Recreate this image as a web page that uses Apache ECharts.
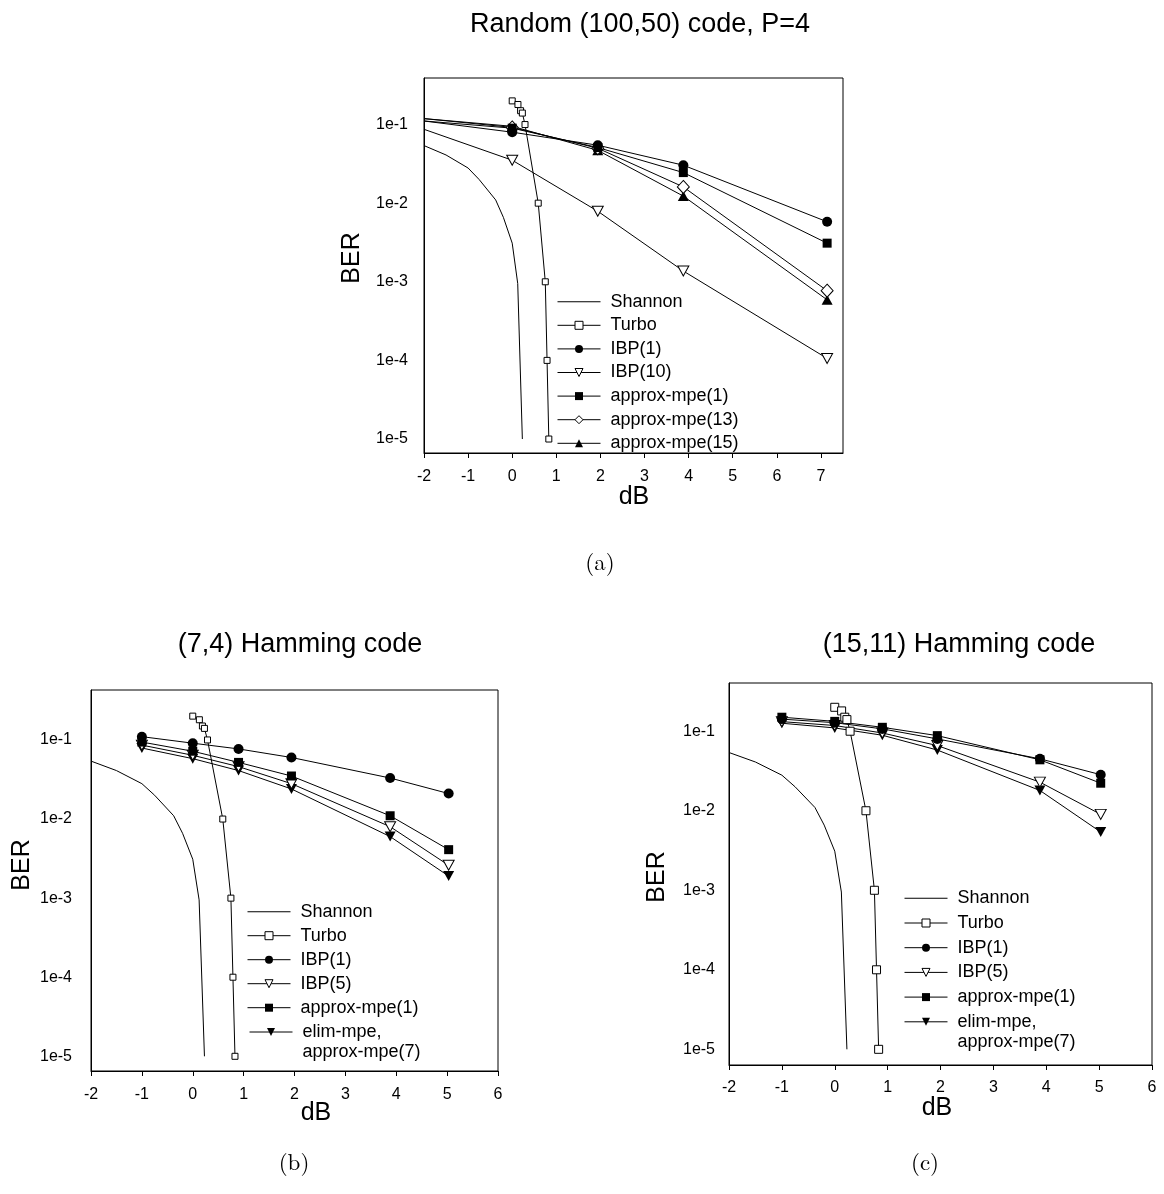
<!DOCTYPE html>
<html>
<head>
<meta charset="utf-8">
<script src="https://cdn.jsdelivr.net/npm/echarts@6/dist/echarts.min.js"></script>
<style>
  html, body { margin: 0; padding: 0; background: #fff; }
  #chart { width: 1164px; height: 1194px; }
</style>
</head>
<body>
<div id="chart"></div>
<script>
// ---- Shared reference curves (dB vs. BER) ----
const shannonDb  = [-2, -1.5, -1, -0.75, -0.375, -0.2, 0, 0.125, 0.23];
const shannonBer = [0.054, 0.041, 0.028, 0.020, 0.011, 0.0066, 0.0031, 0.00095, 0.00001];

const turboDb  = [0, 0.13, 0.19, 0.23, 0.29, 0.59, 0.75, 0.79, 0.83];
const turboBer = [0.2, 0.18, 0.15, 0.14, 0.1, 0.01, 0.001, 0.0001, 0.00001];

// ---- (a) Random (100,50) code, P=4 ----
// the first point (-2 dB) is where each curve enters the frame; it carries no marker
const dbA    = [-2, 0, 1.94, 3.88, 7.14];
const ibp1A  = [0.111, 0.080, 0.0546, 0.0304, 0.0058];
const ibp10A = [0.087, 0.0352, 0.0079, 0.00137, 0.000106];
const mpe1A  = [0.111, 0.090, 0.051, 0.0245, 0.0031];
const mpe13A = [0.119, 0.092, 0.050, 0.0161, 0.00077];
const mpe15A = [0.119, 0.095, 0.047, 0.0123, 0.00059];

// ---- (b) (7,4) Hamming code ----
const dbB   = [-1, 0, 0.9, 1.94, 3.88, 5.03];
const ibp1B = [0.110, 0.091, 0.077, 0.060, 0.033, 0.021];
const ibp5B = [0.086, 0.064, 0.046, 0.028, 0.0080, 0.0026];
const mpe1B = [0.094, 0.072, 0.052, 0.035, 0.0110, 0.0041];
const elimB = [0.079, 0.058, 0.041, 0.024, 0.0060, 0.0019];

// ---- (c) (15,11) Hamming code ----
const dbC   = [-1, 0, 0.9, 1.94, 3.88, 5.03];
const ibp1C = [0.142, 0.128, 0.107, 0.080, 0.045, 0.0284];
const ibp5C = [0.132, 0.118, 0.095, 0.066, 0.0229, 0.0090];
const mpe1C = [0.150, 0.133, 0.112, 0.088, 0.0437, 0.0222];
const elimC = [0.126, 0.110, 0.089, 0.058, 0.018, 0.0054];

// ---- Axis tick values ----
const xTicksA = [-2, -1, 0, 1, 2, 3, 4, 5, 6, 7];
const xTicksBC = [-2, -1, 0, 1, 2, 3, 4, 5, 6];

const FONT = '"Liberation Sans", Arial, Helvetica, sans-serif';
const SERIF = '"Latin Modern Roman", "DejaVu Serif", "Liberation Serif", serif';
const ELIM = 'elim-mpe,\napprox-mpe(7)';

// marker styles
const M = {
  turbo:  { symbol: 'rect', size: 6, fill: '#fff', rotate: 0 },
  turboC: { symbol: 'rect', size: 8, fill: '#fff', rotate: 0 },
  dot:    { symbol: 'circle', size: 10, fill: '#000', rotate: 0 },
  tri:    { symbol: 'triangle', size: [11, 10], fill: '#fff', rotate: 180 },
  triF:   { symbol: 'triangle', size: [11, 10], fill: '#000', rotate: 180 },
  triUp:  { symbol: 'triangle', size: [11, 10], fill: '#000', rotate: 0 },
  sq:     { symbol: 'rect', size: 9, fill: '#000', rotate: 0 },
  dia:    { symbol: 'diamond', size: [12, 13], fill: '#fff', rotate: 0 }
};

function pairs(xs, ys, hideFirst) {
  return xs.map((x, i) => (hideFirst && i === 0)
    ? { value: [x, ys[i]], symbol: 'none' }
    : [x, ys[i]]);
}

function curve(name, grid, xs, ys, marker, hideFirst) {
  const s = {
    type: 'line',
    name: name,
    xAxisIndex: grid,
    yAxisIndex: grid,
    data: pairs(xs, ys, hideFirst),
    lineStyle: { color: '#000', width: 1 },
    color: '#000',
    clip: true,
    silent: true,
    emphasis: { disabled: true },
    showAllSymbol: true
  };
  if (marker) {
    s.symbol = marker.symbol;
    s.symbolSize = marker.size;
    s.symbolRotate = marker.rotate;
    s.itemStyle = { color: marker.fill, borderColor: '#000', borderWidth: marker.fill === '#fff' ? 1 : 0 };
  } else {
    s.symbol = 'none';
  }
  return s;
}

const series = [
  // (a)
  curve('Shannon', 0, shannonDb, shannonBer, null),
  curve('Turbo', 0, turboDb, turboBer, M.turbo),
  curve('IBP(10)', 0, dbA, ibp10A, M.tri, true),
  curve('approx-mpe(15)', 0, dbA, mpe15A, M.triUp, true),
  curve('approx-mpe(13)', 0, dbA, mpe13A, M.dia, true),
  curve('approx-mpe(1)', 0, dbA, mpe1A, M.sq, true),
  curve('IBP(1)', 0, dbA, ibp1A, M.dot, true),
  // (b)
  curve('Shannon', 1, shannonDb, shannonBer, null),
  curve('Turbo', 1, turboDb, turboBer, M.turbo),
  curve(ELIM, 1, dbB, elimB, M.triF),
  curve('IBP(5)', 1, dbB, ibp5B, M.tri),
  curve('approx-mpe(1)', 1, dbB, mpe1B, M.sq),
  curve('IBP(1)', 1, dbB, ibp1B, M.dot),
  // (c)
  curve('Shannon', 2, shannonDb, shannonBer, null),
  curve('Turbo', 2, turboDb, turboBer, M.turboC),
  curve(ELIM, 2, dbC, elimC, M.triF),
  curve('IBP(5)', 2, dbC, ibp5C, M.tri),
  curve('IBP(1)', 2, dbC, ibp1C, M.dot),
  curve('approx-mpe(1)', 2, dbC, mpe1C, M.sq)
];

// plot frames in pixels
const frames = [
  { left: 424, top: 78,  width: 419, height: 375, xmax: 7.5, ymin: 6.64e-6, ymax: 0.391, ticks: xTicksA, ylm: 16, xlm: 16 },
  { left: 91,  top: 690, width: 407, height: 381, xmax: 6,   ymin: 6.52e-6, ymax: 0.428, ticks: xTicksBC, ylm: 19, xlm: 16 },
  { left: 729, top: 683, width: 423, height: 382, xmax: 6,   ymin: 6.35e-6, ymax: 0.404, ticks: xTicksBC, ylm: 14, xlm: 15 }
];

const axisColor = '#000';
const labelStyle = { color: '#000', fontSize: 16, fontFamily: FONT };

const grid = frames.map(f => ({
  left: f.left, top: f.top, width: f.width, height: f.height,
  show: true, borderColor: axisColor, borderWidth: 1, backgroundColor: 'transparent',
  containLabel: false
}));

const xAxis = frames.map((f, i) => ({
  type: 'value', gridIndex: i, min: -2, max: f.xmax, interval: 1,
  axisLine: { show: true, onZero: false, lineStyle: { color: axisColor, width: 1 } },
  axisTick: { show: true, inside: false, length: 5, lineStyle: { color: axisColor }, customValues: f.ticks },
  axisLabel: Object.assign({ margin: f.xlm, customValues: f.ticks, formatter: v => String(v) }, labelStyle),
  splitLine: { show: false }
}));

function decadeLabel(v) {
  const e = Math.log10(v);
  return Math.abs(e - Math.round(e)) < 1e-6 ? '1e' + Math.round(e) : '';
}

const yAxis = frames.map((f, i) => ({
  type: 'log', logBase: 10, gridIndex: i, min: f.ymin, max: f.ymax,
  axisLine: { show: true, onZero: false, lineStyle: { color: axisColor, width: 1 } },
  axisTick: { show: false },
  axisLabel: Object.assign({ margin: f.ylm, formatter: decadeLabel }, labelStyle),
  splitLine: { show: false },
  minorTick: { show: false }
}));

// legends
const legendText = { color: '#000', fontSize: 18, lineHeight: 20, fontFamily: FONT, padding: [0, 0, 0, 5] };
function legItem(name, m) {
  if (!m) {
    return { name: name, icon: 'path://M0,0H43V1H0Z', symbolKeepAspect: true,
             itemStyle: { color: '#000', borderWidth: 0 } };
  }
  return { name: name,
           itemStyle: { color: m.fill, borderColor: '#000', borderWidth: m.fill === '#fff' ? 1 : 0 } };
}
function legend(left, top, gap, items, formatter) {
  const l = {
    orient: 'vertical', left: left, top: top, padding: 0,
    itemWidth: 43, itemHeight: 10, itemGap: gap,
    selectedMode: false,
    lineStyle: { color: '#000', width: 1 },
    textStyle: Object.assign({}, legendText),
    data: items
  };
  if (formatter) l.formatter = formatter;
  return l;
}
// two-line entry: a blank leading line keeps the marker level with "elim-mpe,"
const twoLine = name => ' \n' + name;

const legendA = legend(557, 291.7, 3.6, [
  legItem('Shannon'), legItem('Turbo', M.turbo), legItem('IBP(1)', M.dot), legItem('IBP(10)', M.tri),
  legItem('approx-mpe(1)', M.sq), legItem('approx-mpe(13)', M.dia), legItem('approx-mpe(15)', M.triUp)
]);
const legendB = legend(247, 901.7, 4, [
  legItem('Shannon'), legItem('Turbo', M.turbo), legItem('IBP(1)', M.dot), legItem('IBP(5)', M.tri),
  legItem('approx-mpe(1)', M.sq)
]);
const legendB2 = legend(249, 1002, 0, [legItem(ELIM, M.triF)], twoLine);
const legendC = legend(904, 888.3, 4.7, [
  legItem('Shannon'), legItem('Turbo', M.turboC), legItem('IBP(1)', M.dot), legItem('IBP(5)', M.tri),
  legItem('approx-mpe(1)', M.sq)
]);
const legendC2 = legend(904, 991.8, 0, [legItem(ELIM, M.triF)], twoLine);

// titles, axis names and captions
function txt(x, y, text, size, family, rot) {
  return {
    type: 'text', x: x, y: y, rotation: rot || 0, silent: true,
    style: { text: text, fill: '#000', font: size + 'px ' + family, align: 'center', verticalAlign: 'middle' }
  };
}
const graphic = [
  txt(640, 25, 'Random (100,50) code, P=4', 27, FONT),
  txt(300, 645, '(7,4) Hamming code', 27, FONT),
  txt(959, 645, '(15,11) Hamming code', 27, FONT),
  txt(352, 258, 'BER', 25, FONT, Math.PI / 2),
  txt(22, 865, 'BER', 25, FONT, Math.PI / 2),
  txt(657, 877, 'BER', 25, FONT, Math.PI / 2),
  txt(634, 497, 'dB', 25, FONT),
  txt(316, 1113, 'dB', 25, FONT),
  txt(937, 1108, 'dB', 25, FONT),
  txt(600, 563, '(a)', 23, SERIF),
  txt(294, 1163, '(b)', 23, SERIF),
  txt(925, 1163, '(c)', 23, SERIF)
];

const chart = echarts.init(document.getElementById('chart'), null, { renderer: 'canvas' });
chart.setOption({
  animation: false,
  backgroundColor: '#fff',
  grid: grid,
  xAxis: xAxis,
  yAxis: yAxis,
  legend: [legendA, legendB, legendB2, legendC, legendC2],
  graphic: graphic,
  series: series
});
</script>
</body>
</html>
